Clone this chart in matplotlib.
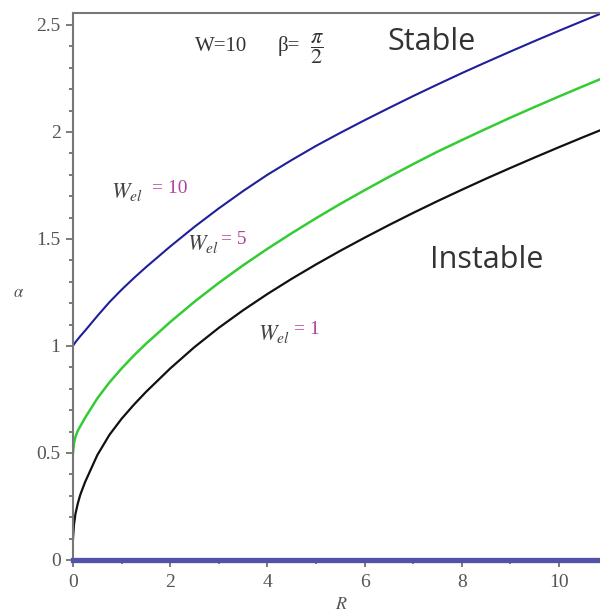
import matplotlib
matplotlib.use("Agg")
import matplotlib.pyplot as plt
from matplotlib.ticker import MultipleLocator

# values
R = [0, 0.02, 0.05, 0.1, 0.15, 0.25, 0.5, 0.75, 1, 1.25, 1.5, 2, 2.5, 3, 3.5,
     4, 4.5, 5, 5.5, 6, 6.5, 7, 7.5, 8, 8.5, 9, 9.5, 10, 10.5, 11]
alpha_wel1 = [0.100, 0.165, 0.215, 0.265, 0.305, 0.365, 0.490, 0.585, 0.660,
              0.725, 0.785, 0.895, 0.995, 1.085, 1.167, 1.243, 1.314, 1.381,
              1.445, 1.506, 1.565, 1.622, 1.677, 1.730, 1.782, 1.832, 1.881,
              1.929, 1.976, 2.022]
alpha_wel5 = [0.500, 0.545, 0.575, 0.605, 0.625, 0.665, 0.755, 0.830, 0.895,
              0.955, 1.010, 1.112, 1.207, 1.295, 1.377, 1.454, 1.527, 1.597,
              1.664, 1.728, 1.790, 1.850, 1.908, 1.962, 2.015, 2.067, 2.117,
              2.166, 2.214, 2.261]
alpha_wel10 = [1.000, 1.008, 1.018, 1.032, 1.046, 1.072, 1.140, 1.205, 1.263,
               1.317, 1.368, 1.465, 1.557, 1.643, 1.724, 1.800, 1.869, 1.935,
               1.996, 2.055, 2.112, 2.168, 2.222, 2.275, 2.326, 2.376, 2.425,
               2.473, 2.520, 2.566]
base_R = [0, 11]
base_alpha = [0, 0]

GRAY = "#555555"
TEXT = "#333333"
MAGENTA = "#b0449e"

plt.rcParams["mathtext.fontset"] = "stix"
SERIF = ["Liberation Serif", "DejaVu Serif"]
SANS = ["Open Sans", "DejaVu Sans"]

fig = plt.figure(figsize=(6, 6.12), dpi=100)
ax = fig.add_axes([73 / 600, 52 / 612, 534.6 / 600, 547 / 612])

ax.plot(R, alpha_wel10, color="#1f1f99", lw=1.5, solid_joinstyle="round")
ax.plot(R, alpha_wel5, color="#33cc33", lw=1.8, solid_joinstyle="round")
ax.plot(R, alpha_wel1, color="#111111", lw=1.6, solid_joinstyle="round")
ax.plot(base_R, base_alpha, color="#5252a8", lw=3.8, clip_on=False, zorder=5,
        solid_capstyle="projecting")

ax.set_xlim(0, 11)
ax.set_ylim(0, 2.556)
ax.xaxis.set_major_locator(MultipleLocator(2))
ax.xaxis.set_minor_locator(MultipleLocator(1))
ax.yaxis.set_major_locator(MultipleLocator(0.5))
ax.yaxis.set_minor_locator(MultipleLocator(0.1))
ax.yaxis.set_major_formatter(plt.FuncFormatter(lambda v, p: f"{v:g}"))

ax.tick_params(which="both", direction="out", colors="#666666", width=1.2)
ax.tick_params(which="major", length=5, labelsize=14, labelcolor=GRAY, pad=4)
ax.tick_params(which="minor", length=3)
ax.tick_params(axis="x", which="major", pad=5)
for lab in ax.get_xticklabels() + ax.get_yticklabels():
    lab.set_family(SERIF)
for s in ["left", "top", "bottom"]:
    ax.spines[s].set_color("#777777")
    ax.spines[s].set_linewidth(1.5)
ax.spines["right"].set_visible(False)

fig.text(19 / 600, 1 - 292 / 612, r"$\alpha$", fontsize=12, color=GRAY,
         ha="center", va="center")
fig.text(341 / 600, 1 - 604 / 612, r"$R$", fontsize=13, color=GRAY,
         ha="center", va="center")

# header text
ax.text(2.51, 2.40, "W=10", family=SERIF, fontsize=15, color=TEXT,
        ha="left", va="center")
ax.text(4.22, 2.40, "β=", family=SERIF, fontsize=15, color=TEXT,
        ha="left", va="center")
ax.text(4.88, 2.39, r"$\dfrac{\pi}{2}$", fontsize=16, color=TEXT,
        ha="left", va="center")
ax.text(6.46, 2.42, "Stable", family=SANS, fontsize=22, color=TEXT,
        ha="left", va="center")
ax.text(7.35, 1.40, "Instable", family=SANS, fontsize=22, color=TEXT,
        ha="left", va="center")

# curve labels: W_el in gray, value in magenta
labels = [(0.78, 1.69, 1.62, "= 10"), (2.34, 1.45, 3.05, "= 5"),
          (3.80, 1.03, 4.55, "= 1")]
for x0, y0, x1, val in labels:
    ax.text(x0, y0, r"$W_{el}$", fontsize=16, color="#444444",
            ha="left", va="baseline")
    ax.text(x1, y0 + 0.025, val, family=SERIF, fontsize=14, color=MAGENTA,
            ha="left", va="baseline")

fig.savefig("out.png", dpi=100, facecolor="white")
